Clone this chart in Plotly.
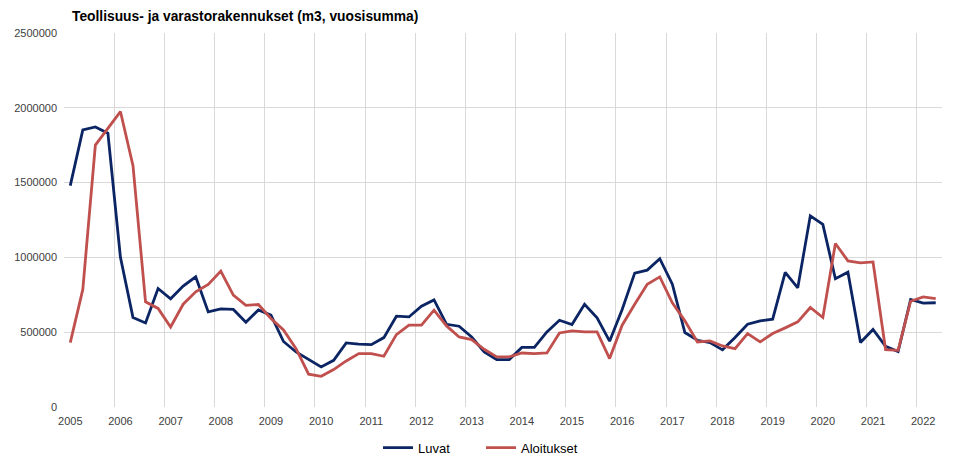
import plotly.graph_objects as go

years = [str(y) for y in range(2005, 2023)]
quarters = [f"{y} Q{q}" for y in range(2005, 2023) for q in range(1, 5)][:70]

luvat = [
    1480000, 1852000, 1872000, 1830000,
    1000000, 598000, 562000, 792000,
    723000, 808000, 870000, 636000,
    656000, 652000, 567000, 649000,
    614000, 438000, 368000, 317000,
    268000, 312000, 428000, 420000,
    417000, 464000, 607000, 602000,
    674000, 716000, 553000, 540000,
    468000, 368000, 317000, 317000,
    398000, 398000, 502000, 580000,
    551000, 687000, 596000, 440000,
    652000, 895000, 915000, 991000,
    821000, 498000, 446000, 431000,
    382000, 465000, 553000, 576000,
    587000, 900000, 797000, 1278000,
    1221000, 857000, 901000, 431000,
    518000, 406000, 371000, 719000,
    694000, 697000,
]

aloitukset = [
    430000, 786000, 1751000, 1863000,
    1975000, 1613000, 703000, 659000,
    535000, 687000, 770000, 819000,
    908000, 748000, 679000, 685000,
    592000, 515000, 390000, 219000,
    205000, 250000, 308000, 357000,
    357000, 339000, 484000, 547000,
    547000, 647000, 542000, 468000,
    451000, 386000, 335000, 335000,
    361000, 357000, 361000, 495000,
    509000, 502000, 502000, 324000,
    547000, 687000, 821000, 870000,
    696000, 576000, 435000, 442000,
    408000, 390000, 491000, 435000,
    491000, 529000, 569000, 665000,
    598000, 1093000, 977000, 964000,
    970000, 384000, 379000, 707000,
    736000, 725000,
]

x_idx = list(range(len(quarters)))
font_family = "Liberation Sans, Arial, sans-serif"

fig = go.Figure()
fig.add_trace(go.Scatter(
    x=x_idx, y=luvat, mode="lines", name="Luvat",
    line=dict(color="#0b2463", width=2.8), text=quarters,
    hovertemplate="%{text}: %{y}<extra>Luvat</extra>",
))
fig.add_trace(go.Scatter(
    x=x_idx, y=aloitukset, mode="lines", name="Aloitukset",
    line=dict(color="#c0504d", width=2.8), text=quarters,
    hovertemplate="%{text}: %{y}<extra>Aloitukset</extra>",
))

fig.update_layout(
    width=956, height=459,
    margin=dict(l=64, r=14, t=33, b=52, autoexpand=False),
    paper_bgcolor="white", plot_bgcolor="white",
    font=dict(family=font_family, color="#404040"),
    title=dict(
        text="<b>Teollisuus- ja varastorakennukset (m3, vuosisumma)</b>",
        x=72 / 956, xanchor="left", y=1 - 16 / 459, yanchor="middle",
        font=dict(size=13.8, color="#000000", family=font_family),
    ),
    showlegend=True,
    legend=dict(
        orientation="h", x=(378 - 64) / 878, xanchor="left",
        y=-0.109, yanchor="middle",
        font=dict(size=13, color="#000000"), itemwidth=30,
        entrywidth=58, entrywidthmode="pixels",
        traceorder="normal",
    ),
)

fig.update_xaxes(
    range=[-0.5, len(quarters) - 0.5],
    tickmode="array",
    tickvals=[4 * i for i in range(len(years))],
    ticktext=years,
    showgrid=False, zeroline=False, showline=False, automargin=False,
    ticks="", tickfont=dict(size=11, color="#404040"),
    ticklabelstandoff=6,
    minor=dict(
        tickmode="array",
        tickvals=[4 * i - 0.5 for i in range(len(years))],
        showgrid=True, gridcolor="#d9d9d9", gridwidth=1, ticks="",
    ),
)
fig.update_yaxes(
    range=[0, 2500000], dtick=500000, tick0=0,
    tickformat="d", automargin=False,
    showgrid=True, gridcolor="#d9d9d9", gridwidth=1,
    zeroline=False, showline=False, ticks="",
    ticklabelstandoff=6,
    tickfont=dict(size=11, color="#404040"),
)

fig.write_html(
    "out.html",
    config={"displayModeBar": False},
    post_script="document.body.style.margin='0';document.body.style.overflow='hidden';",
)
